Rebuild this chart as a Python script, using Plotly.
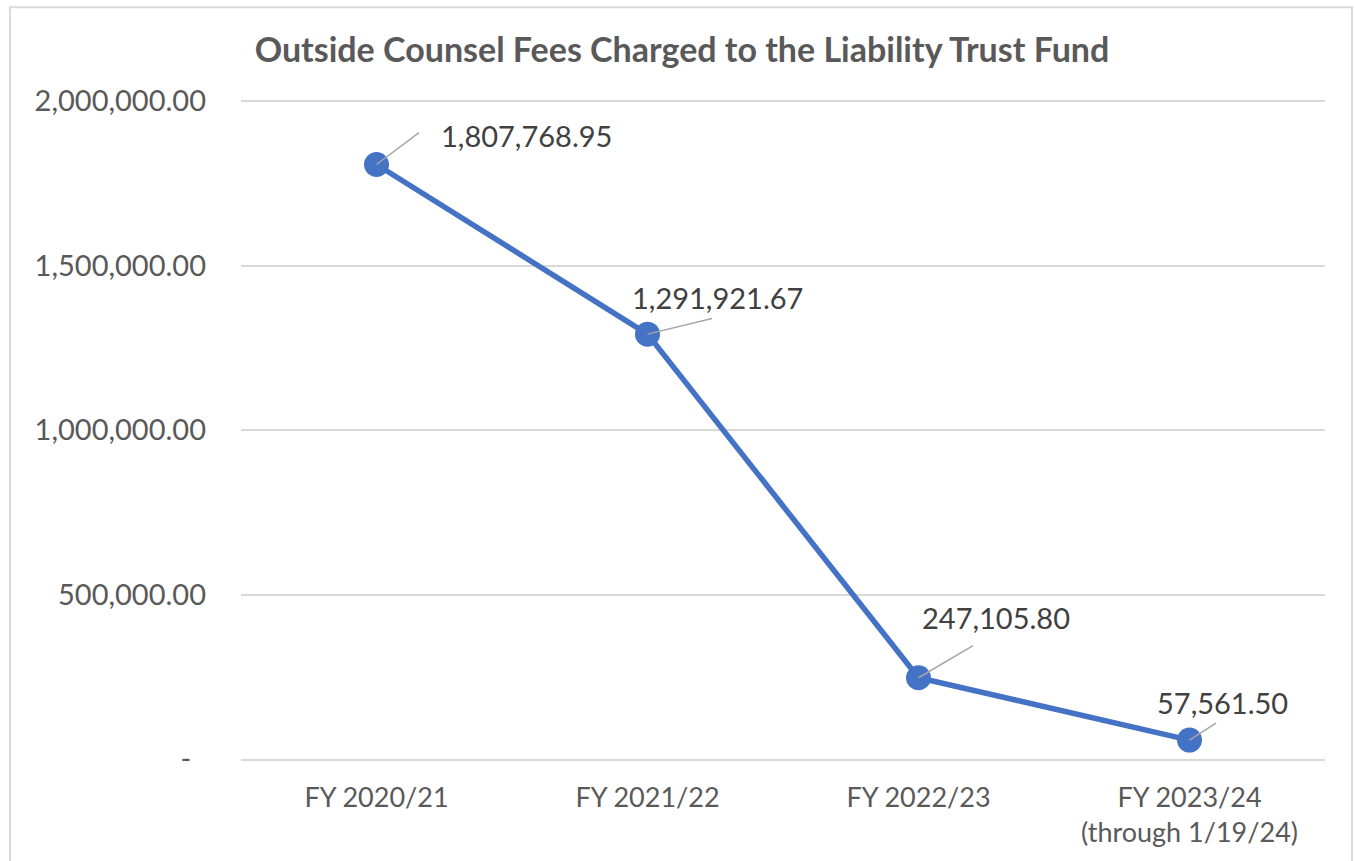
import plotly.graph_objects as go

categories = ["FY 2020/21", "FY 2021/22", "FY 2022/23", "FY 2023/24<br>(through 1/19/24)"]
fees = [1807768.95, 1291921.67, 247105.80, 57561.50]
tick_vals = [0, 500000, 1000000, 1500000, 2000000]
tick_text = ["-  ", "500,000.00", "1,000,000.00", "1,500,000.00", "2,000,000.00"]

# label placement offsets (pixels): text shift and leader-line end
label_shift = [(150, 29), (70, 37), (77, 60), (33, 38)]
leader_end = [(44, -33), (66, -16), (56, -33), (28, -18)]

FONT = "Lato, 'Open Sans', sans-serif"
GRAY = "#595959"
BLUE = "#4472C4"

Y_TOP = 2010000
PLOT_H = 658 * Y_TOP / 2000000
TOP = 759 - PLOT_H

fig = go.Figure()
fig.add_trace(go.Scatter(
    x=categories, y=fees, mode="lines+markers",
    line=dict(color=BLUE, width=5.5),
    marker=dict(size=25, color=BLUE),
    hoverinfo="skip", showlegend=False,
))

annotations = []
for cat, v, (dx, dy), (lx, ly) in zip(categories, fees, label_shift, leader_end):
    annotations.append(dict(
        x=cat, y=v, xref="x", yref="y", text="", showarrow=True,
        arrowhead=0, arrowwidth=1.5, arrowcolor="#a6a6a6",
        ax=lx, ay=ly, standoff=0, startstandoff=0,
    ))
    annotations.append(dict(
        x=cat, y=v, xref="x", yref="y", text=f"{v:,.2f}", showarrow=False,
        xshift=dx, yshift=dy, xanchor="center", yanchor="middle",
        font=dict(family=FONT, size=29, color="#404040"),
    ))

fig.update_layout(
    width=1355, height=861,
    margin=dict(l=241, r=30, t=TOP, b=102, autoexpand=False),
    paper_bgcolor="white", plot_bgcolor="white",
    title=dict(
        text="<b>Outside Counsel Fees Charged to the Liability Trust Fund</b>",
        x=682 / 1355, xanchor="center", y=1 - 50 / 861, yanchor="middle",
        yref="container", xref="container",
        font=dict(family=FONT, size=34, color=GRAY),
    ),
    xaxis=dict(
        type="category", range=[-0.5, 3.5], automargin=False,
        showgrid=False, showline=True, linecolor="#d9d9d9", linewidth=1.5,
        ticks="", tickfont=dict(family=FONT, size=27, color=GRAY),
        ticklabelstandoff=14, zeroline=False,
    ),
    yaxis=dict(
        range=[0, Y_TOP], tickvals=tick_vals, ticktext=tick_text,
        automargin=False,
        showgrid=True, gridcolor="#d9d9d9", gridwidth=1.5,
        showline=False, zeroline=False, ticks="",
        tickfont=dict(family=FONT, size=29, color=GRAY),
        ticklabelstandoff=34,
    ),
    annotations=annotations,
    shapes=[dict(
        type="rect", xref="paper", yref="paper",
        x0=(10 - 241) / 1084, x1=(1352 - 241) / 1084,
        y0=(759 - 880) / PLOT_H, y1=(759 - 7) / PLOT_H,
        line=dict(color="#d9d9d9", width=2), fillcolor="rgba(0,0,0,0)",
        layer="below",
    )],
)

fig.write_html(
    "out.html",
    config={"displayModeBar": False},
    post_script="document.body.style.margin='0';",
)
